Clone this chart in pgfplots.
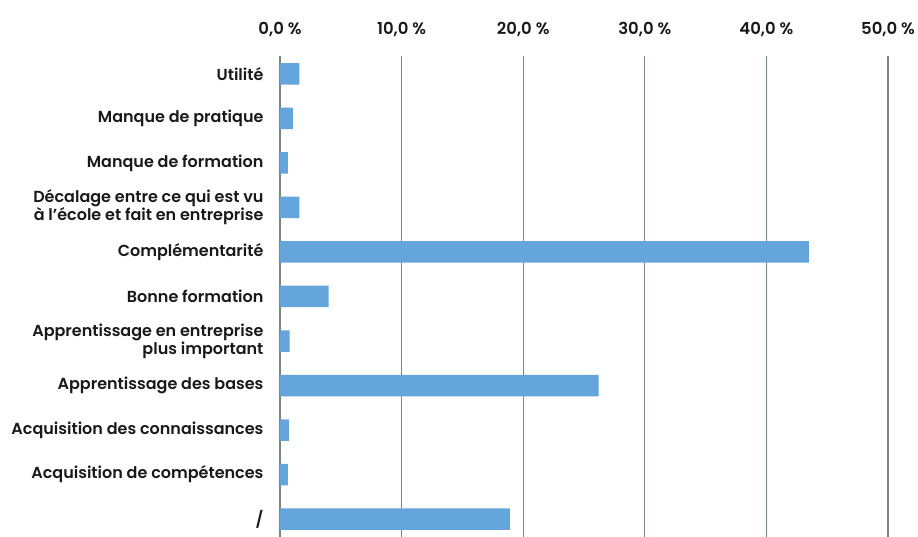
\documentclass[border=0pt]{standalone}
\usepackage{fontspec}
\setmainfont{Poppins}[UprightFont=* SemiBold]
\usepackage{pgfplots}
\pgfplotsset{compat=1.18}
\definecolor{barblue}{RGB}{100,166,219}
\definecolor{gridgreen}{RGB}{115,138,115}
\definecolor{txt}{RGB}{25,25,25}
\begin{document}
\begin{tikzpicture}
\useasboundingbox (-280pt,0pt) rectangle (638pt,537pt);
\begin{axis}[
  at={(0pt,0pt)}, anchor=south west,
  scale only axis, width=608pt, height=481pt,
  xbar, bar width=21.5pt,
  xmin=0, xmax=50,
  ymin=-0.404, ymax=10.404,
  y dir=reverse,
  xtick={0,10,20,30,40,50},
  ytick={0,1,2,3,4,5,6,7,8,9,10},
  yticklabels={Utilité,Manque de pratique,Manque de formation,{Décalage entre ce qui est vu\\à l’école et fait en entreprise},Complémentarité,Bonne formation,{Apprentissage en entreprise\\plus important},Apprentissage des bases,Acquisition des connaissances,Acquisition de compétences,/},
  xticklabel pos=upper,
  xticklabel={\pgfmathprintnumber[fixed,fixed zerofill,precision=1,use comma]{\tick}~\%},
  /pgf/number format/assume math mode=true,
  xticklabel style={font=\fontsize{16.5}{18}\selectfont, text=txt, yshift=15.5pt},
  yticklabel style={font=\fontsize{16}{18}\selectfont, text=txt, align=right, xshift=-13pt},
  axis line style={draw=none},
  major tick length=0pt,
  xmajorgrids,
  grid style={gridgreen, line width=1.2pt},
  clip=false,
]
\addplot[fill=barblue, draw=none] coordinates {
(1.6,0) (1.05,1) (0.65,2) (1.6,3) (43.5,4) (4.0,5) (0.8,6) (26.2,7) (0.72,8) (0.65,9) (18.9,10)
};
\end{axis}
\end{tikzpicture}
\end{document}
